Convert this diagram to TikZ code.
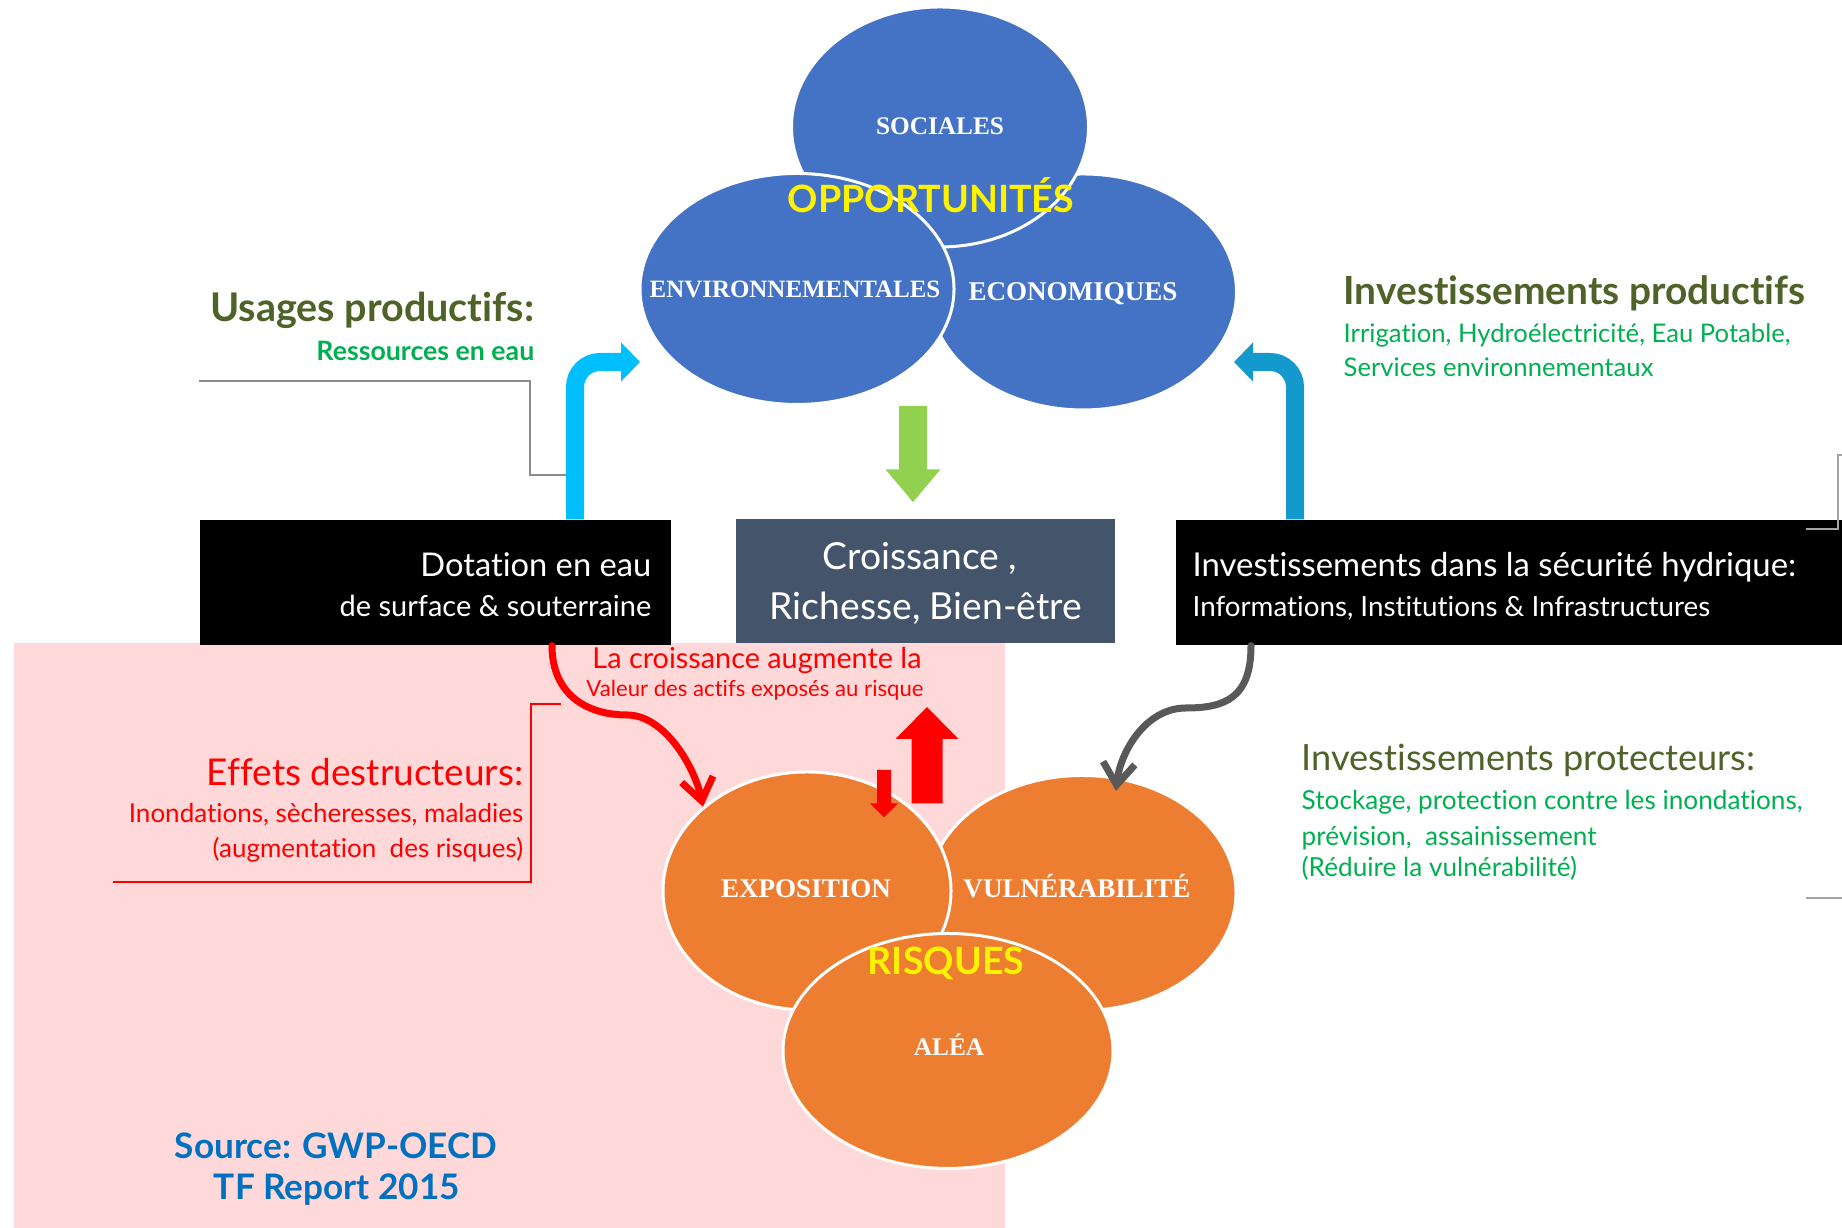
\documentclass[tikz,border=0pt]{standalone}
\usepackage{fontspec}
\setmainfont{Lato}[Ligatures=NoCommon]
\newfontfamily\capsfont{Liberation Serif}
\usepackage{xcolor}
\definecolor{chance-blue}{HTML}{4472C4}
\definecolor{risk-orange}{HTML}{ED7D31}
\definecolor{olive-dark}{HTML}{4F6228}
\definecolor{leaf-green}{HTML}{00B050}
\definecolor{growth-green}{HTML}{92D050}
\definecolor{slate}{HTML}{44546A}
\definecolor{sky-blue}{HTML}{00BFFF}
\definecolor{sea-blue}{HTML}{1499CC}
\definecolor{alarm-red}{HTML}{FF0000}
\definecolor{soft-pink}{HTML}{FFD9D9}
\definecolor{ash-grey}{HTML}{595959}
\definecolor{line-grey}{HTML}{8C8C8C}
\definecolor{source-blue}{HTML}{0070C0}
\usetikzlibrary{shapes.geometric,arrows.meta}

\begin{document}
\begin{tikzpicture}[
    chance/.style={ellipse, fill=chance-blue, draw=white, line width=0.03cm, inner sep=0pt},
    risk/.style={ellipse, fill=risk-orange, draw=white, line width=0.03cm, inner sep=0pt},
    caps/.style={text=white, inner sep=0pt, anchor=base, font=\capsfont\bfseries\fontsize{7.2}{9}\selectfont},
    bigcaps/.style={caps, font=\capsfont\bfseries\fontsize{7.7}{9}\selectfont},
    headline/.style={text=yellow, inner sep=0pt, anchor=base, font=\bfseries\fontsize{10.7}{13}\selectfont},
    panel/.style={rectangle, inner sep=0pt, minimum height=1.25cm},
    txt/.style={inner sep=0pt},
    fat/.style={line width=#1}
  ]

    \useasboundingbox (0,0) rectangle (18.42,12.28);

    % Background
    \fill[soft-pink] (0.14,0) rectangle (10.05,5.85);

    % Opportunities
    \node[chance, minimum width=3.07cm, minimum height=2.36cm] (eco) at (10.83,9.36) {};
    \node[chance, minimum width=2.97cm, minimum height=2.40cm] (soc) at (9.40,11.01) {};
    \node[chance, minimum width=3.14cm, minimum height=2.31cm] (env) at (7.97,9.39) {};
    \node[caps] (soc-text) at (9.40,10.93) {SOCIALES};
    \node[caps, font=\capsfont\bfseries\fontsize{7.1}{9}\selectfont] (env-text) at (7.95,9.30) {ENVIRONNEMENTALES};
    \node[bigcaps] (eco-text) at (10.73,9.27) {ECONOMIQUES};
    \node[headline] (opp-text) at (9.31,10.15) {OPPORTUNITÉS};

    % Risks
    \node[risk, minimum width=3.08cm, minimum height=2.35cm] (vuln) at (10.82,3.35) {};
    \node[risk, minimum width=2.88cm, minimum height=2.38cm] (expo) at (8.07,3.37) {};
    \node[risk, minimum width=3.30cm, minimum height=2.35cm] (alea) at (9.48,1.77) {};
    \node[bigcaps] (expo-text) at (8.06,3.30) {EXPOSITION};
    \node[bigcaps] (vuln-text) at (10.77,3.30) {VULNÉRABILITÉ};
    \node[caps] (alea-text) at (9.49,1.72) {ALÉA};
    \node[headline] (risk-text) at (9.46,2.53) {RISQUES};

    % Panels
    \node[panel, fill=black, minimum width=4.71cm] (dotation) at (4.355,6.455) {};
    \node[panel, fill=slate, minimum width=3.79cm, minimum height=1.24cm] (croissance) at (9.255,6.47) {};
    \node[panel, fill=black, minimum width=6.66cm] (invest) at (15.09,6.455) {};

    \node[txt, anchor=base east, text=white, font=\fontsize{9.3}{11}\selectfont] (dot-l1) at (6.52,6.51) {Dotation en eau};
    \node[txt, anchor=base east, text=white, font=\fontsize{8.25}{10}\selectfont] (dot-l2) at (6.52,6.11) {de surface \& souterraine};
    \node[txt, anchor=base, text=white, font=\fontsize{10.6}{12}\selectfont] (grow-l1) at (9.20,6.58) {Croissance ,};
    \node[txt, anchor=base, text=white, font=\fontsize{10.6}{12}\selectfont] (grow-l2) at (9.26,6.08) {Richesse, Bien-être};
    \node[txt, anchor=base west, text=white, font=\fontsize{9.35}{11}\selectfont] (sec-l1) at (11.92,6.51) {Investissements dans la sécurité hydrique:};
    \node[txt, anchor=base west, text=white, font=\fontsize{7.9}{10}\selectfont] (sec-l2) at (11.92,6.11) {Informations, Institutions \& Infrastructures};

    % Water flows up
    \coordinate (env-in) at (6.40,8.66);
    \coordinate (eco-in) at (12.34,8.66);
    \draw[sky-blue, fat=0.18cm, rounded corners=0.25cm, -{Triangle[width=0.38cm,length=0.19cm]}] ([xshift=1.395cm]dotation.north) |- (env-in);
    \draw[sea-blue, fat=0.18cm, rounded corners=0.25cm, -{Triangle[width=0.38cm,length=0.19cm]}] ([xshift=-2.14cm]invest.north) |- (eco-in);

    % Growth
    \coordinate (grow-top) at (9.13,8.22);
    \draw[growth-green, fat=0.28cm, -{Triangle[width=0.53cm,length=0.33cm]}] (grow-top) -- ([xshift=-0.125cm,yshift=0.16cm]croissance.north);

    % Curved arrows
    \draw[alarm-red, fat=0.07cm, line cap=round, -{Straight Barb[length=0.22cm,width=0.32cm]}] ([xshift=1.165cm]dotation.south) .. controls (5.52,5.35) and (5.85,5.13) .. (6.27,5.13) .. controls (6.65,5.13) and (6.95,4.6) .. (expo.141);
    \draw[ash-grey, fat=0.07cm, line cap=round, -{Straight Barb[length=0.22cm,width=0.32cm]}] ([xshift=-2.58cm]invest.south) .. controls (12.51,5.3) and (12.25,5.2) .. (11.86,5.2) .. controls (11.45,5.2) and (11.2,4.75) .. ([xshift=0.34cm,yshift=-0.17cm]vuln.north);

    % Exposure arrows
    \coordinate (expo-drop) at (8.84,4.58);
    \coordinate (value-up) at (9.27,5.21);
    \draw[alarm-red, fat=0.14cm, -{Triangle[width=0.27cm,length=0.14cm]}] (expo-drop) -- ([xshift=0.77cm,yshift=-0.47cm]expo.north);
    \draw[alarm-red, fat=0.31cm, -{Triangle[width=0.61cm,length=0.32cm]}] ([xshift=1.20cm,yshift=-0.33cm]expo.north) -- (value-up);

    % Leader lines
    \draw[line-grey, line width=0.4pt] (1.99,8.47) -- (5.30,8.47) -- (5.30,7.53) -- (5.66,7.53);
    \draw[alarm-red, line width=0.4pt] (5.61,5.24) -- (5.31,5.24) -- (5.31,3.46) -- (1.13,3.46);
    \draw[line-grey!80, line width=0.6pt] (18.42,7.73) -- (18.38,7.73) -- (18.38,6.99) -- (18.06,6.99);
    \draw[line-grey!80, line width=0.6pt] (18.06,3.30) -- (18.42,3.30);

    % Labels left
    \node[txt, anchor=base east, text=olive-dark, font=\bfseries\fontsize{11.25}{13}\selectfont] (use-title) at (5.35,9.06) {Usages productifs:};
    \node[txt, anchor=base east, text=leaf-green, font=\bfseries\fontsize{7.6}{9}\selectfont] (use-sub) at (5.35,8.67) {Ressources en eau};
    \node[txt, anchor=base east, text=alarm-red, font=\fontsize{10.5}{13}\selectfont] (harm-title) at (5.24,4.42) {Effets destructeurs:};
    \node[txt, anchor=base east, text=alarm-red, font=\fontsize{7.4}{9}\selectfont] (harm-l1) at (5.24,4.05) {Inondations, sècheresses, maladies};
    \node[txt, anchor=base east, text=alarm-red, font=\fontsize{7.4}{9}\selectfont] (harm-l2) at (5.24,3.70) {(augmentation\ \ des risques)};
    \node[txt, anchor=base, text=alarm-red, font=\fontsize{8.2}{10}\selectfont] (value-l1) at (7.57,5.59) {La croissance augmente la};
    \node[txt, anchor=base, text=alarm-red, font=\fontsize{6.3}{8}\selectfont] (value-l2) at (7.55,5.31) {Valeur des actifs exposés au risque};

    % Labels right
    \node[txt, anchor=base west, text=olive-dark, font=\bfseries\fontsize{11.05}{13}\selectfont] (prod-title) at (13.43,9.23) {Investissements productifs};
    \node[txt, anchor=base west, text=leaf-green, font=\fontsize{7.3}{9}\selectfont] (prod-l1) at (13.43,8.85) {Irrigation, Hydroélectricité, Eau Potable,};
    \node[txt, anchor=base west, text=leaf-green, font=\fontsize{7.3}{9}\selectfont] (prod-l2) at (13.43,8.51) {Services environnementaux};
    \node[txt, anchor=base west, text=olive-dark, font=\fontsize{10.3}{12}\selectfont] (prot-title) at (13.01,4.57) {Investissements protecteurs:};
    \node[txt, anchor=base west, text=leaf-green, font=\fontsize{7.45}{9}\selectfont] (prot-l1) at (13.01,4.18) {Stockage, protection contre les inondations,};
    \node[txt, anchor=base west, text=leaf-green, font=\fontsize{7.45}{9}\selectfont] (prot-l2) at (13.01,3.82) {prévision,\ \ assainissement};
    \node[txt, anchor=base west, text=leaf-green, font=\fontsize{7.45}{9}\selectfont] (prot-l3) at (13.01,3.51) {(Réduire la vulnérabilité)};

    % Source
    \node[txt, anchor=base, text=source-blue, font=\bfseries\fontsize{10}{12}\selectfont] (src-l1) at (3.36,0.69) {Source: GWP-OECD};
    \node[txt, anchor=base, text=source-blue, font=\bfseries\fontsize{10}{12}\selectfont] (src-l2) at (3.37,0.28) {TF Report 2015};

\end{tikzpicture}
\end{document}
